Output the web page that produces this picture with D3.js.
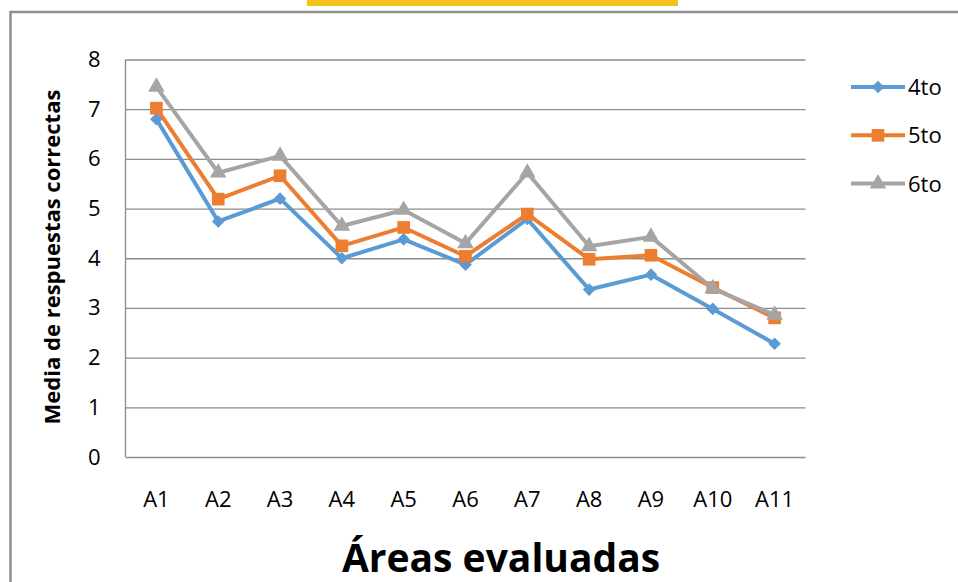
<!DOCTYPE html>
<html>
<head>
<meta charset="utf-8">
<script src="https://cdn.jsdelivr.net/npm/d3@7"></script>
<style>
  body { margin: 0; background: #fff; }
  svg { display: block; font-family: "Open Sans", sans-serif; }
</style>
</head>
<body>
<svg class="js-chart" width="958" height="582"></svg>
<script>
// data
var areas = ['A1', 'A2', 'A3', 'A4', 'A5', 'A6', 'A7', 'A8', 'A9', 'A10', 'A11'];
var cuarto = [6.80, 4.74, 5.20, 4.00, 4.38, 3.87, 4.79, 3.37, 3.67, 2.98, 2.28];
var quinto = [7.02, 5.19, 5.66, 4.25, 4.62, 4.04, 4.89, 3.98, 4.06, 3.41, 2.80];
var sexto  = [7.45, 5.72, 6.06, 4.65, 4.97, 4.30, 5.72, 4.24, 4.43, 3.39, 2.86];
var seriesNames = ['4to', '5to', '6to'];
var yTicks = [0, 1, 2, 3, 4, 5, 6, 7, 8];

// diamond = square turned 45deg, like the office one
var colors = ['#5b9bd5', '#ed7d31', '#a5a5a5'],
    shapes = [d3.symbolSquare, d3.symbolSquare, d3.symbolTriangle],
    sizes = [80, 160, 120],
    turns = [45, 0, 0];

var series = [cuarto, quinto, sexto];

var svg = d3.select('.js-chart');

// top yellow strip and the outer frame
svg.append('rect')
    .attr('x', 307).attr('y', 0)
    .attr('width', 371).attr('height', 6)
    .attr('fill', '#f5c11b');

svg.append('rect')
    .attr('x', 10.5).attr('y', 12)
    .attr('width', 1000).attr('height', 700)
    .attr('fill', 'none')
    .attr('stroke', '#8f8f8f')
    .attr('stroke-width', 2.5);

var plot = { left: 125.5, right: 805.5, top: 59.5, bottom: 457 };

var x = d3.scaleBand()
    .domain(areas)
    .range([plot.left, plot.right]);

var y = d3.scaleLinear()
    .domain([0, 8])
    .range([plot.bottom, plot.top]);

// gridlines + y labels
var yAxis = svg.append('g')
    .attr('transform', 'translate(' + plot.left + ',0)')
    .call(d3.axisLeft(y).tickValues(yTicks).tickSize(-(plot.right - plot.left)).tickPadding(25));

yAxis.select('.domain').remove();
yAxis.selectAll('.tick line')
    .attr('stroke', '#8c8c8c')
    .attr('stroke-width', 1.3);
yAxis.selectAll('.tick text')
    .attr('fill', '#000')
    .attr('font-size', 22)
    .attr('font-family', '"Open Sans", sans-serif');

// left axis line
svg.append('line')
    .attr('x1', plot.left).attr('x2', plot.left)
    .attr('y1', plot.top).attr('y2', plot.bottom)
    .attr('stroke', '#8c8c8c')
    .attr('stroke-width', 1.3);

// x labels
var xAxis = svg.append('g')
    .attr('transform', 'translate(0,' + plot.bottom + ')')
    .call(d3.axisBottom(x).tickSize(0).tickPadding(34));

xAxis.select('.domain').remove();
xAxis.selectAll('.tick text')
    .attr('fill', '#000')
    .attr('font-size', 22)
    .attr('font-family', '"Open Sans", sans-serif');

// lines and markers
var line = d3.line()
    .x(function (d, i) { return x(areas[i]) + x.bandwidth() / 2; })
    .y(function (d) { return y(d); });

series.forEach(function (vals, s) {
  var g = svg.append('g');
  g.append('path')
      .datum(vals)
      .attr('d', line)
      .attr('fill', 'none')
      .attr('stroke', colors[s])
      .attr('stroke-width', 4)
      .attr('stroke-linejoin', 'round');
  g.selectAll('path.mark')
      .data(vals)
      .enter().append('path')
      .attr('class', 'mark')
      .attr('d', d3.symbol().type(shapes[s]).size(sizes[s]))
      .attr('transform', function (d, i) {
        return 'translate(' + (x(areas[i]) + x.bandwidth() / 2) + ',' + y(d) + ') rotate(' + turns[s] + ')';
      })
      .attr('fill', colors[s]);
});

// legend
var legend = svg.append('g');
seriesNames.forEach(function (name, s) {
  var ly = 87 + s * 48.3;
  legend.append('line')
      .attr('x1', 851).attr('x2', 905)
      .attr('y1', ly).attr('y2', ly)
      .attr('stroke', colors[s])
      .attr('stroke-width', 4);
  legend.append('path')
      .attr('d', d3.symbol().type(shapes[s]).size(sizes[s]))
      .attr('transform', 'translate(878,' + ly + ') rotate(' + turns[s] + ')')
      .attr('fill', colors[s]);
  legend.append('text')
      .attr('x', 908).attr('y', ly)
      .attr('dy', '0.36em')
      .attr('font-size', 22)
      .text(name);
});

// axis titles
svg.append('text')
    .attr('transform', 'translate(60,257) rotate(-90)')
    .attr('text-anchor', 'middle')
    .attr('font-size', 22)
    .attr('font-weight', 'bold')
    .text('Media de respuestas correctas');

svg.append('text')
    .attr('x', 501).attr('y', 572)
    .attr('text-anchor', 'middle')
    .attr('font-size', 39)
    .attr('font-weight', 'bold')
    .text('Áreas evaluadas');
</script>
</body>
</html>
